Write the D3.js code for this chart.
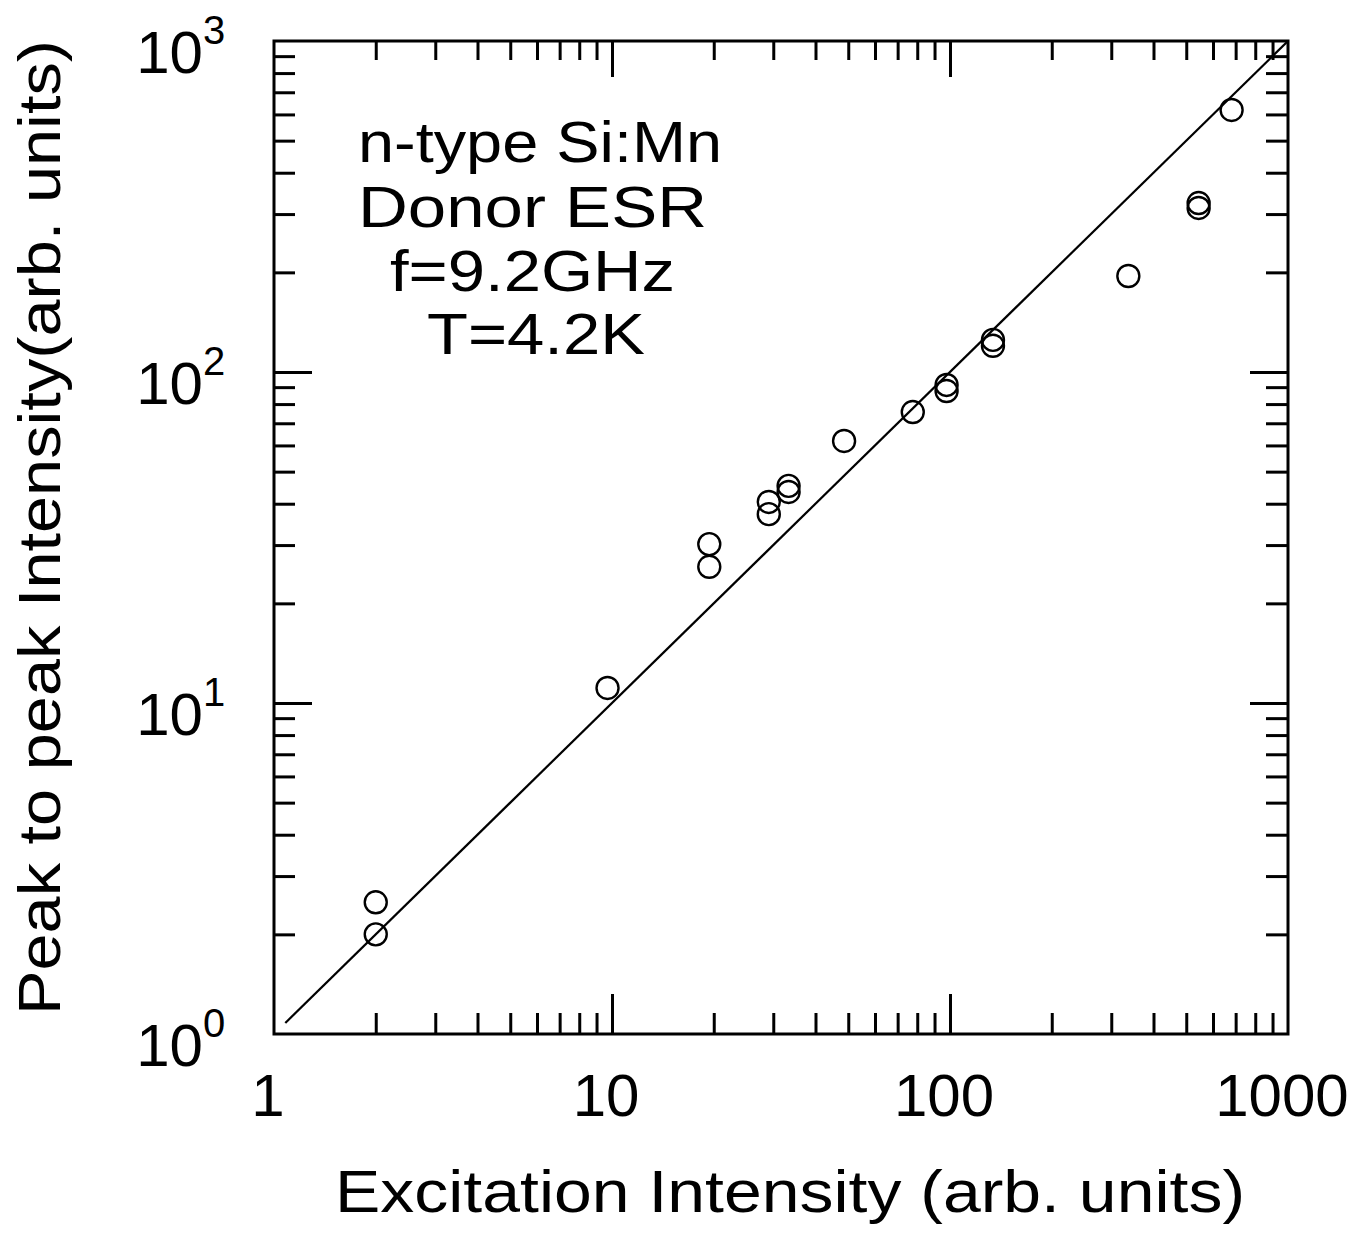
<!DOCTYPE html>
<html>
<head>
<meta charset="utf-8">
<script src="https://cdn.jsdelivr.net/npm/d3@7"></script>
<style>
  html, body { margin: 0; padding: 0; background: #fff; }
  svg { display: block; }
  text { font-family: "Liberation Sans", Arial, Helvetica, sans-serif; fill: #000; }
</style>
</head>
<body>
<svg id="chart" width="1372" height="1239"></svg>
<script>
// Excitation intensity vs. ESR peak-to-peak intensity (log-log)
const excitation = [2, 2, 9.7, 19.4, 19.4, 29.1, 29.1, 33.3, 33.3, 48.6, 77.6, 97.7, 97.7, 134, 134, 337, 544, 544, 681];
const intensity  = [2.5, 2.0, 11.1, 30.2, 25.8, 40.5, 37.2, 45.3, 43.4, 61.9, 75.7, 91.4, 87.6, 125, 120, 195, 324, 313, 619];

// Fitted line (slope 1 on log-log axes), endpoints
const fitX = [1.08, 1000];
const fitY = [1.08, 1000];

// Axis ticks and labels
const xMajorTicks = [10, 100];
const xMinorTicks = [2,3,4,5,6,7,8,9, 20,30,40,50,60,70,80,90, 200,300,400,500,600,700,800,900];
const xTickLabels = [1, 10, 100, 1000];
const yMajorTicks = [10, 100];
const yMinorTicks = [2,3,4,5,6,7,8,9, 20,30,40,50,60,70,80,90, 200,300,400,500,600,700,800,900];
const yTickValues = [1, 10, 100, 1000];
const yTickExponents = ["0", "1", "2", "3"];

const annotationLines = ["n-type Si:Mn", "Donor ESR", "f=9.2GHz", "T=4.2K"];
const xTitle = "Excitation Intensity (arb. units)";
const yTitle = "Peak to peak Intensity(arb. units)";

const svg = d3.select("#chart");
const plotLeft = 274, plotRight = 1288, plotTop = 41, plotBottom = 1034;

const x = d3.scaleLog().domain([1, 1000]).range([plotLeft, plotRight]);
const y = d3.scaleLog().domain([1, 1000]).range([plotBottom, plotTop]);

const tickStroke = 3;

function styleTicks(g) {
  g.select(".domain").remove();
  g.selectAll(".tick line").attr("stroke", "#000").attr("stroke-width", tickStroke);
  g.selectAll(".tick text").remove();
}

// inward ticks on all four sides
svg.append("g").attr("transform", `translate(0,${plotBottom})`)
  .call(d3.axisBottom(x).tickValues(xMinorTicks).tickSize(-21).tickFormat("")).call(styleTicks);
svg.append("g").attr("transform", `translate(0,${plotBottom})`)
  .call(d3.axisBottom(x).tickValues(xMajorTicks).tickSize(-40).tickFormat("")).call(styleTicks);
svg.append("g").attr("transform", `translate(0,${plotTop})`)
  .call(d3.axisTop(x).tickValues(xMinorTicks).tickSize(-19).tickFormat("")).call(styleTicks);
svg.append("g").attr("transform", `translate(0,${plotTop})`)
  .call(d3.axisTop(x).tickValues(xMajorTicks).tickSize(-36).tickFormat("")).call(styleTicks);
svg.append("g").attr("transform", `translate(${plotLeft},0)`)
  .call(d3.axisLeft(y).tickValues(yMinorTicks).tickSize(-21).tickFormat("")).call(styleTicks);
svg.append("g").attr("transform", `translate(${plotLeft},0)`)
  .call(d3.axisLeft(y).tickValues(yMajorTicks).tickSize(-38).tickFormat("")).call(styleTicks);
svg.append("g").attr("transform", `translate(${plotRight},0)`)
  .call(d3.axisRight(y).tickValues(yMinorTicks).tickSize(-22).tickFormat("")).call(styleTicks);
svg.append("g").attr("transform", `translate(${plotRight},0)`)
  .call(d3.axisRight(y).tickValues(yMajorTicks).tickSize(-38).tickFormat("")).call(styleTicks);

// frame
svg.append("rect")
  .attr("x", plotLeft).attr("y", plotTop)
  .attr("width", plotRight - plotLeft).attr("height", plotBottom - plotTop)
  .attr("fill", "none").attr("stroke", "#000").attr("stroke-width", 3);

// x tick labels
svg.append("g").selectAll("text").data(xTickLabels).join("text")
  .attr("x", d => x(d) - 6)
  .attr("y", 1116)
  .attr("text-anchor", "middle")
  .attr("font-size", 60)
  .text(d => d);

// y tick labels as powers of ten
const yLab = svg.append("g").selectAll("g").data(yTickValues).join("g");
yLab.append("text")
  .attr("x", 203)
  .attr("y", d => y(d) + 32)
  .attr("text-anchor", "end")
  .attr("font-size", 60)
  .text("10");
yLab.append("text")
  .attr("x", 203)
  .attr("y", d => y(d) + 3)
  .attr("font-size", 40)
  .text((d, i) => yTickExponents[i]);

// fitted line
svg.append("path")
  .datum(fitX.map((v, i) => [v, fitY[i]]))
  .attr("d", d3.line().x(d => x(d[0])).y(d => y(d[1])))
  .attr("fill", "none").attr("stroke", "#000").attr("stroke-width", 2.2);

// data points
svg.append("g").selectAll("circle").data(excitation).join("circle")
  .attr("cx", d => x(d))
  .attr("cy", (d, i) => y(intensity[i]))
  .attr("r", 11)
  .attr("fill", "none").attr("stroke", "#000").attr("stroke-width", 2.4);

// annotation block
const annBaselines = [162, 227, 291, 354];
const annStart = [358, 358, 390, 427];
const annWidth = [364, 349, 285, 218];
svg.append("g").selectAll("text").data(annotationLines).join("text")
  .attr("x", (d, i) => annStart[i])
  .attr("y", (d, i) => annBaselines[i])
  .attr("font-size", 58)
  .attr("textLength", (d, i) => annWidth[i])
  .attr("lengthAdjust", "spacingAndGlyphs")
  .text(d => d);

// axis titles
svg.append("text")
  .attr("x", 335).attr("y", 1212)
  .attr("font-size", 60)
  .attr("textLength", 910)
  .attr("lengthAdjust", "spacingAndGlyphs")
  .text(xTitle);

svg.append("text")
  .attr("transform", "translate(60,1015) rotate(-90)")
  .attr("x", 0).attr("y", 0)
  .attr("font-size", 60)
  .attr("textLength", 975)
  .attr("lengthAdjust", "spacingAndGlyphs")
  .text(yTitle);
</script>
</body>
</html>
